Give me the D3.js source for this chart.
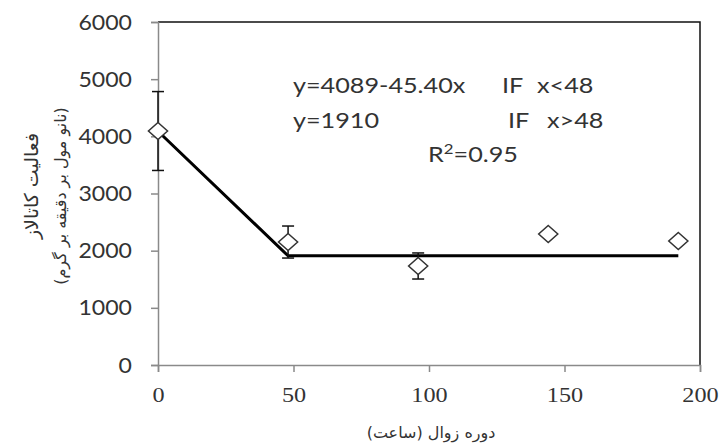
<!DOCTYPE html>
<html>
<head>
<meta charset="utf-8">
<script src="https://cdn.jsdelivr.net/npm/d3@7"></script>
<style>
  html, body { margin: 0; padding: 0; background: #fff; }
  svg { display: block; }
</style>
</head>
<body>
<svg id="chart" width="719" height="447"></svg>
<script>
// Catalase activity measured over the decay period
const hours = [0, 48, 96, 144, 192];
const activity = [4093, 2151, 1732, 2291, 2169];
const stdErr = [690, 280, 228, 0, 0];

// Segmented regression: linear decline up to the breakpoint, then a plateau
const fitIntercept = 4089;
const fitSlope = -45.40;
const fitBreak = 48;
const fitPlateau = 1910;
const fitEnd = 192;

const xTicks = [0, 50, 100, 150, 200];
const yTicks = [0, 1000, 2000, 3000, 4000, 5000, 6000];

const equationLines = ["y=4089-45.40x", "y=1910"];
const conditionLines = ["IF", "IF"];
const rangeLines = ["x<48", "x>48"];

const yTitle = ["فعالیت کاتالاز", "(نانو مول بر دقیقه بر گرم)"];
const xTitle = "دوره زوال (ساعت)";

const svg = d3.select("#chart");
const plot = { left: 158, right: 700, top: 22, bottom: 365 };

const x = d3.scaleLinear().domain([0, 200]).range([plot.left, plot.right]);
const y = d3.scaleLinear().domain([0, 6000]).range([plot.bottom, plot.top]);

const axisGray = "#8a8a8a";
const textColor = "#333";
const latin = "Lato, 'Open Sans', sans-serif";
const serif = "'Liberation Serif', 'Times New Roman', serif";
const persian = "'DejaVu Sans', sans-serif";
const stretch = 1.2;      // wide setting for the equation text
const tickStretch = 1.05; // and for the value-axis labels

// Frame: black top and right edges
svg.append("path")
  .attr("d", `M${plot.left},${plot.top}H${plot.right}V${plot.bottom}`)
  .attr("fill", "none").attr("stroke", "#111").attr("stroke-width", 1.5);

// Y axis
const yAxis = svg.append("g")
  .attr("transform", `translate(${plot.left},0)`)
  .call(d3.axisLeft(y).tickValues(yTicks).tickSize(7).tickFormat(d3.format("d")));
yAxis.select(".domain").attr("stroke", axisGray).attr("stroke-width", 1.5);
yAxis.selectAll(".tick line").attr("stroke", axisGray).attr("stroke-width", 1.5);
yAxis.selectAll(".tick text")
  .attr("x", -26 / tickStretch)
  .attr("transform", `scale(${tickStretch},1)`)
  .attr("fill", textColor).style("font-family", latin).style("font-size", "22px");

// X axis
const xAxis = svg.append("g")
  .attr("transform", `translate(0,${plot.bottom})`)
  .call(d3.axisBottom(x).tickValues(xTicks).tickSize(7).tickPadding(14).tickFormat(d3.format("d")));
xAxis.select(".domain").attr("stroke", axisGray).attr("stroke-width", 1.5);
xAxis.selectAll(".tick line").attr("stroke", axisGray).attr("stroke-width", 1.5);
xAxis.selectAll(".tick text")
  .attr("transform", "scale(1.1,1)")
  .attr("fill", textColor).style("font-family", serif).style("font-size", "22px");

// Fitted piecewise line
const fitPoints = [
  [0, fitIntercept],
  [fitBreak, fitIntercept + fitSlope * fitBreak],
  [fitEnd, fitPlateau]
];
svg.append("path")
  .datum(fitPoints)
  .attr("d", d3.line().x(d => x(d[0])).y(d => y(d[1])))
  .attr("fill", "none").attr("stroke", "#000").attr("stroke-width", 3);

// Error bars
const points = hours.map((h, i) => ({ h, v: activity[i], e: stdErr[i] }));
const eb = svg.append("g").attr("stroke", "#111").attr("stroke-width", 1.5);
points.filter(d => d.e > 0).forEach(d => {
  const cx = x(d.h), y1 = y(d.v + d.e), y0 = y(d.v - d.e);
  eb.append("line").attr("x1", cx).attr("x2", cx).attr("y1", y1).attr("y2", y0);
  eb.append("line").attr("x1", cx - 6).attr("x2", cx + 6).attr("y1", y1).attr("y2", y1);
  eb.append("line").attr("x1", cx - 6).attr("x2", cx + 6).attr("y1", y0).attr("y2", y0);
});

// Diamond markers (slightly wider than tall)
const diamond = d3.symbol().type(d3.symbolDiamond2).size(200);
svg.append("g").selectAll("path")
  .data(points)
  .join("path")
  .attr("d", diamond)
  .attr("transform", d => `translate(${x(d.h)},${y(d.v)}) scale(1.08,0.96)`)
  .attr("fill", "#fff").attr("stroke", "#333").attr("stroke-width", 1.5)
  .attr("vector-effect", "non-scaling-stroke");

// Regression equations
const eq = svg.append("g").attr("fill", textColor)
  .style("font-family", latin).style("font-size", "21px");
const placeText = (px, py) => `translate(${px},${py}) scale(${stretch},1)`;
const eqY = [93, 128];
const eqIfX = [502, 508];
const eqRangeX = [537, 547];
equationLines.forEach((t, i) => {
  eq.append("text").attr("transform", placeText(293, eqY[i])).text(t);
  eq.append("text").attr("transform", placeText(eqIfX[i], eqY[i])).text(conditionLines[i]);
  eq.append("text").attr("transform", placeText(eqRangeX[i], eqY[i])).text(rangeLines[i]);
});
const r2 = eq.append("text").attr("transform", placeText(428, 162));
r2.append("tspan").text("R");
r2.append("tspan").attr("dy", -8).style("font-size", "14px").text("2");
r2.append("tspan").attr("dy", 8).text("=0.95");

// Axis titles
const yt = svg.append("g").attr("fill", textColor)
  .style("font-family", persian)
  .attr("text-anchor", "middle").attr("direction", "rtl");
yt.append("text").attr("transform", "translate(38,186) rotate(-90)")
  .style("font-size", "19px").text(yTitle[0]);
yt.append("text").attr("transform", "translate(66,196) rotate(-90)")
  .style("font-size", "16px").text(yTitle[1]);

svg.append("text")
  .attr("x", 431).attr("y", 438)
  .attr("text-anchor", "middle").attr("direction", "rtl")
  .attr("fill", textColor)
  .style("font-family", persian).style("font-size", "16px")
  .text(xTitle);
</script>
</body>
</html>
